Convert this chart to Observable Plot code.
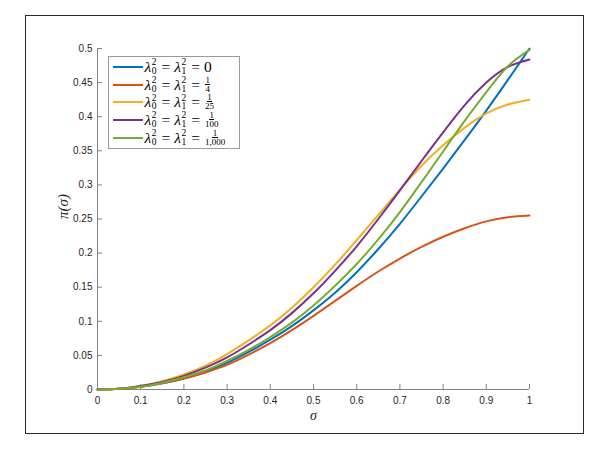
<!DOCTYPE html>
<html><head><meta charset="utf-8">
<script src="https://cdn.jsdelivr.net/npm/d3@7"></script>
<script src="https://cdn.jsdelivr.net/npm/@observablehq/plot@0.6"></script>
<style>
body{margin:0;background:#fff}
#wrap{position:relative;width:608px;height:451px;background:#fff;overflow:hidden}
#border{position:absolute;left:25px;top:15px;width:559px;height:419px;border:1.5px solid #2a2a2a;box-sizing:border-box;pointer-events:none}
#legend{position:absolute;left:108px;top:56px;width:132px;height:93px;border:1px solid #9a9a9a;box-sizing:border-box;background:#fff;padding-top:1px}
.row{height:17.7px;display:flex;align-items:center;font-family:"Liberation Serif","DejaVu Serif",serif;font-size:15.5px;color:#000;white-space:nowrap}
.sw{display:inline-block;width:30px;height:2px;margin-left:3.5px;margin-right:2px}
.it{font-style:italic}
.ss{display:inline-flex;flex-direction:column;font-size:9.5px;line-height:8.6px;margin-left:0.5px;margin-right:1px;font-style:normal}
.eq{margin:0 4px}
.frac{display:inline-flex;flex-direction:column;align-items:center;font-size:9px;line-height:8.5px;margin-left:1px}
.frac .n{border-bottom:0.7px solid #000;padding:0 0.5px;line-height:8px}
</style></head>
<body>
<div id="wrap"><div id="border"></div></div>
<script>
// sigma grid
const sigma = [0,0.05,0.1,0.15,0.2,0.25,0.3,0.35,0.4,0.45,0.5,0.55,0.6,0.65,0.7,0.75,0.8,0.85,0.9,0.95,1];
// pi(sigma) for each lambda^2
const piL0    = [0,0.001,0.004,0.009,0.016,0.026,0.039,0.055,0.073,0.093,0.116,0.142,0.172,0.206,0.243,0.283,0.324,0.366,0.409,0.454,0.500];
const piL4    = [0,0.001,0.004,0.009,0.016,0.025,0.036,0.051,0.068,0.087,0.108,0.130,0.152,0.173,0.192,0.209,0.224,0.2365,0.2465,0.2525,0.255];
const piL25   = [0,0.001,0.005,0.012,0.022,0.035,0.052,0.072,0.094,0.120,0.150,0.183,0.219,0.256,0.293,0.328,0.358,0.384,0.405,0.418,0.425];
const piL100  = [0,0.001,0.005,0.011,0.020,0.032,0.047,0.066,0.087,0.112,0.141,0.174,0.210,0.250,0.292,0.335,0.377,0.417,0.450,0.473,0.484];
const piL1000 = [0,0.001,0.004,0.010,0.018,0.028,0.042,0.058,0.077,0.098,0.123,0.152,0.184,0.220,0.260,0.304,0.349,0.394,0.436,0.474,0.498];
const series = [piL0, piL4, piL25, piL100, piL1000];
const legendRhs = ["0", "1/4", "1/25", "1/100", "1/1,000"];
const colors = ["#0072BD", "#D95319", "#EDB120", "#7E2F8E", "#77AC30"];
const xTicks = [0,0.1,0.2,0.3,0.4,0.5,0.6,0.7,0.8,0.9,1];
const yTicks = [0,0.05,0.1,0.15,0.2,0.25,0.3,0.35,0.4,0.45,0.5];
const xLabel = "σ";
const yLabel = "π(σ)";

const rows = [];
series.forEach((vals, k) => vals.forEach((p, j) => rows.push({s: sigma[j], p, k})));

const W = 608, H = 451, mL = 97, mR = 79, mT = 48, mB = 62;
const axisColor = "#808080";
const plot = Plot.plot({
  width: W, height: H,
  marginLeft: mL, marginRight: mR, marginTop: mT, marginBottom: mB,
  style: {fontFamily: "'Liberation Sans', Helvetica, Arial, sans-serif", fontSize: "10px", color: "#262626", background: "transparent", overflow: "visible"},
  x: {domain: [0, 1], nice: false},
  y: {domain: [0, 0.5], nice: false},
  marks: [
    Plot.ruleY([0], {stroke: axisColor}),
    Plot.ruleX([0], {stroke: axisColor}),
    Plot.ruleX(xTicks, {stroke: axisColor, insetTop: H - mT - mB - 5}),
    Plot.ruleY(yTicks, {stroke: axisColor, insetRight: W - mL - mR - 5}),
    Plot.axisX({ticks: xTicks, tickSize: 0, tickPadding: 7, tickFormat: d => String(d), label: null}),
    Plot.axisY({ticks: yTicks, tickSize: 0, tickPadding: 5, tickFormat: d => String(d), label: null}),
    Plot.line(rows, {x: "s", y: "p", z: "k", stroke: d => colors[d.k], strokeWidth: 2, curve: "natural"}),
    Plot.text([xLabel], {text: d => d, frameAnchor: "bottom", dy: 30, fontSize: 14, fontStyle: "italic", fontFamily: "'Liberation Serif', 'DejaVu Serif', serif", fill: "#262626"}),
    Plot.text([yLabel], {text: d => d, frameAnchor: "left", dx: -34, rotate: -90, fontSize: 15, fontStyle: "italic", fontFamily: "'Liberation Serif', 'DejaVu Serif', serif", fill: "#262626"})
  ]
});
plot.style.position = "absolute";
plot.style.left = "0px";
plot.style.top = "0px";
const wrap = document.getElementById("wrap");
wrap.insertBefore(plot, wrap.firstChild);

// legend
const lg = document.createElement("div");
lg.id = "legend";
const lam = sub => `<span class="it">λ</span><span class="ss"><span>2</span><span>${sub}</span></span>`;
legendRhs.forEach((r, k) => {
  const parts = r.split("/");
  const rhs = parts.length === 2
    ? `<span class="frac"><span class="n">${parts[0]}</span><span>${parts[1]}</span></span>`
    : `<span>${r}</span>`;
  const row = document.createElement("div");
  row.className = "row";
  row.innerHTML = `<span class="sw" style="background:${colors[k]}"></span>${lam(0)}<span class="eq">=</span>${lam(1)}<span class="eq">=</span>${rhs}`;
  lg.appendChild(row);
});
wrap.appendChild(lg);
</script>
</body></html>
